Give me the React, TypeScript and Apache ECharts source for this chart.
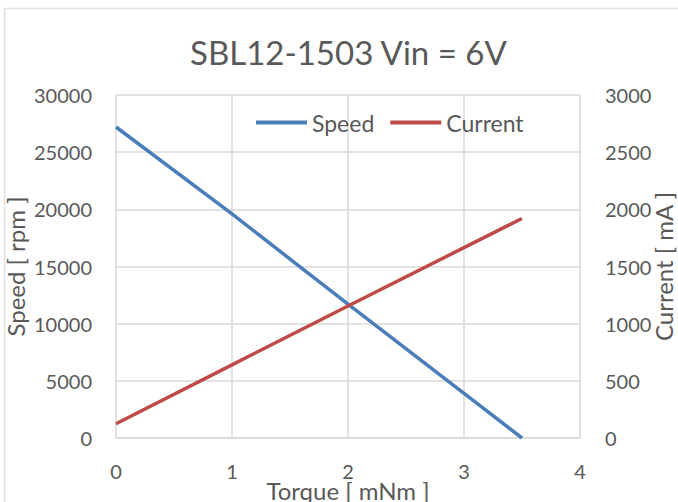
import React, { useEffect, useRef } from "react";
import * as echarts from "echarts";

const torque = [0, 1, 2, 3, 3.5];
const speed = [27200, 19600, 11700, 3900, 0];
const current = [125, 640, 1155, 1665, 1920];

const FONT = "Lato";
const GREY = "#595959";
const GRID = "#d9d9d9";

export default function App() {
  const ref = useRef<HTMLDivElement>(null);
  useEffect(() => {
    document.body.style.margin = "0";
    const chart = echarts.init(ref.current!, null, { renderer: "svg" });
    const fmt = (v: number) => String(v);
    chart.setOption({
      animation: false,
      backgroundColor: "#ffffff",
      textStyle: { fontFamily: FONT },
      title: {
        text: "SBL12-1503 Vin = 6V",
        left: 185,
        top: 30,
        textStyle: { fontFamily: FONT, fontSize: 33, fontWeight: "normal", color: GREY },
      },
      legend: {
        left: 251,
        top: 106,
        icon: "rect",
        itemWidth: 51,
        itemHeight: 4,
        itemGap: 16,
        textStyle: { fontFamily: FONT, fontSize: 23, color: GREY },
        data: ["Speed", "Current"],
      },
      graphic: [
        {
          type: "rect",
          shape: { x: 4.5, y: 8.5, width: 800, height: 600 },
          style: { fill: "none", stroke: "#e2e2e2", lineWidth: 1.5 },
          silent: true,
        },
      ],
      grid: { left: 116, right: 98, top: 95, bottom: 64, outerBoundsMode: "none", containLabel: false },
      xAxis: {
        type: "value",
        min: 0,
        max: 4,
        interval: 1,
        name: "Torque [ mNm ]",
        nameLocation: "middle",
        nameGap: 40,
        nameMoveOverlap: false,
        nameTextStyle: { fontFamily: FONT, fontSize: 24, color: GREY },
        axisLine: { show: true, lineStyle: { color: GRID, width: 1.5 } },
        axisTick: { show: false },
        axisLabel: { fontFamily: FONT, fontSize: 20, color: GREY, margin: 23, formatter: fmt },
        splitLine: { show: true, lineStyle: { color: GRID, width: 1.5 } },
      },
      yAxis: [
        {
          type: "value",
          min: 0,
          max: 30000,
          interval: 5000,
          name: "Speed [ rpm ]",
          nameLocation: "middle",
          nameGap: 89,
          nameMoveOverlap: false,
          nameTextStyle: { fontFamily: FONT, fontSize: 24, color: GREY },
          axisLine: { show: false },
          axisTick: { show: false },
          axisLabel: { fontFamily: FONT, fontSize: 20, color: GREY, margin: 24, formatter: fmt },
          splitLine: { show: true, lineStyle: { color: GRID, width: 1.5 } },
        },
        {
          type: "value",
          min: 0,
          max: 3000,
          interval: 500,
          name: "Current [ mA ]",
          nameLocation: "middle",
          nameGap: 71,
          nameMoveOverlap: false,
          nameTextStyle: { fontFamily: FONT, fontSize: 24, color: GREY },
          axisLine: { show: false },
          axisTick: { show: false },
          axisLabel: { fontFamily: FONT, fontSize: 20, color: GREY, margin: 25, formatter: fmt },
          splitLine: { show: false },
        },
      ],
      series: [
        {
          name: "Speed",
          type: "line",
          yAxisIndex: 0,
          symbol: "none",
          data: torque.map((t, i) => [t, speed[i]]),
          lineStyle: { color: "#4a7ebb", width: 3.5 },
          itemStyle: { color: "#4a7ebb" },
        },
        {
          name: "Current",
          type: "line",
          yAxisIndex: 1,
          symbol: "none",
          data: torque.map((t, i) => [t, current[i]]),
          lineStyle: { color: "#be4b48", width: 3.5 },
          itemStyle: { color: "#be4b48" },
        },
      ],
    });
    return () => chart.dispose();
  }, []);
  return <div ref={ref} style={{ width: 678, height: 502 }} />;
}
